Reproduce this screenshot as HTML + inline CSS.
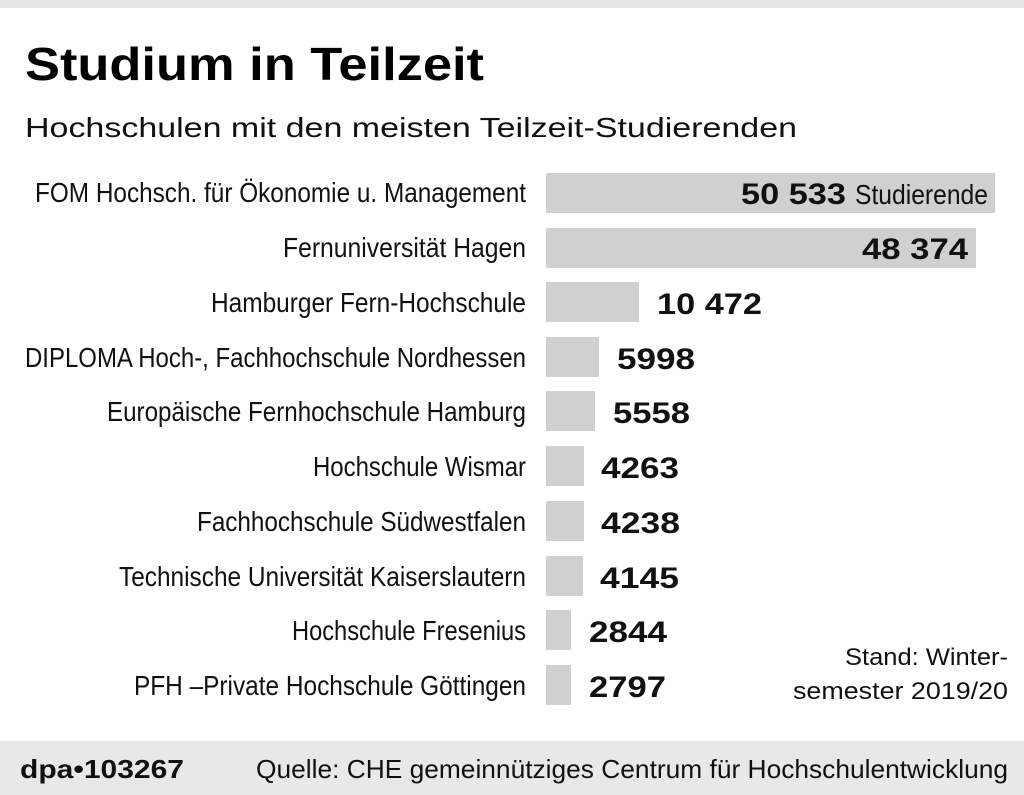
<!DOCTYPE html>
<html><head><meta charset="utf-8"><style>
html,body{margin:0;padding:0;background:#fff;}
svg{display:block;}
</style></head><body>
<svg width="1024" height="795" xmlns="http://www.w3.org/2000/svg" font-family="Liberation Sans, sans-serif">
<rect x="0" y="0" width="1024" height="8" fill="#e6e6e6"/>
<rect x="0" y="741" width="1024" height="54" fill="#e8e8e8"/>
<text x="25" y="80" font-size="46" font-weight="bold" textLength="459" lengthAdjust="spacingAndGlyphs">Studium in Teilzeit</text>
<text x="25" y="137" font-size="28" textLength="772" lengthAdjust="spacingAndGlyphs" fill="#111">Hochschulen mit den meisten Teilzeit-Studierenden</text>
<g fill="#d0d0d0">
<rect x="546" y="173" width="449" height="40"/>
<rect x="546" y="228" width="430" height="40"/>
<rect x="546" y="282" width="93" height="40"/>
<rect x="546" y="337" width="53" height="40"/>
<rect x="546" y="391" width="49" height="40"/>
<rect x="546" y="446" width="38" height="40"/>
<rect x="546" y="501" width="38" height="40"/>
<rect x="546" y="556" width="37" height="40"/>
<rect x="546" y="610" width="25" height="40"/>
<rect x="546" y="665" width="25" height="40"/>
</g>
<g font-size="28" fill="#111" text-anchor="end">
<text x="526" y="202" textLength="491" lengthAdjust="spacingAndGlyphs">FOM Hochsch. für Ökonomie u. Management</text>
<text x="526" y="257" textLength="243" lengthAdjust="spacingAndGlyphs">Fernuniversität Hagen</text>
<text x="526" y="312" textLength="315" lengthAdjust="spacingAndGlyphs">Hamburger Fern-Hochschule</text>
<text x="526" y="367" textLength="501" lengthAdjust="spacingAndGlyphs">DIPLOMA Hoch-, Fachhochschule  Nordhessen</text>
<text x="526" y="421" textLength="419" lengthAdjust="spacingAndGlyphs">Europäische Fernhochschule Hamburg</text>
<text x="526" y="476" textLength="213" lengthAdjust="spacingAndGlyphs">Hochschule Wismar</text>
<text x="526" y="531" textLength="329" lengthAdjust="spacingAndGlyphs">Fachhochschule Südwestfalen</text>
<text x="526" y="586" textLength="407" lengthAdjust="spacingAndGlyphs">Technische Universität Kaiserslautern</text>
<text x="526" y="640" textLength="234" lengthAdjust="spacingAndGlyphs">Hochschule Fresenius</text>
<text x="526" y="695" textLength="392" lengthAdjust="spacingAndGlyphs">PFH –Private Hochschule Göttingen</text>
</g>
<g font-size="30" font-weight="bold" fill="#111">
<text x="741" y="204" textLength="105" lengthAdjust="spacingAndGlyphs">50 533</text>
<text x="862" y="259" textLength="106" lengthAdjust="spacingAndGlyphs">48 374</text>
<text x="657" y="314" textLength="105" lengthAdjust="spacingAndGlyphs">10 472</text>
<text x="617" y="369" textLength="78" lengthAdjust="spacingAndGlyphs">5998</text>
<text x="613" y="423" textLength="77" lengthAdjust="spacingAndGlyphs">5558</text>
<text x="601" y="478" textLength="78" lengthAdjust="spacingAndGlyphs">4263</text>
<text x="601" y="533" textLength="79" lengthAdjust="spacingAndGlyphs">4238</text>
<text x="600" y="588" textLength="79" lengthAdjust="spacingAndGlyphs">4145</text>
<text x="589" y="642" textLength="78" lengthAdjust="spacingAndGlyphs">2844</text>
<text x="589" y="697" textLength="77" lengthAdjust="spacingAndGlyphs">2797</text>
</g>
<text x="855" y="204" font-size="28" fill="#111" textLength="133" lengthAdjust="spacingAndGlyphs">Studierende</text>
<g font-size="24" fill="#111" text-anchor="end">
<text x="1008" y="665" textLength="163" lengthAdjust="spacingAndGlyphs">Stand: Winter-</text>
<text x="1008" y="699" textLength="215" lengthAdjust="spacingAndGlyphs">semester 2019/20</text>
</g>
<text x="20" y="778" font-size="26" font-weight="bold" fill="#111" textLength="164" lengthAdjust="spacingAndGlyphs">dpa•103267</text>
<text x="256" y="778" font-size="26" fill="#111" textLength="752" lengthAdjust="spacingAndGlyphs">Quelle: CHE gemeinnütziges Centrum für Hochschulentwicklung</text>
</svg>
</body></html>
